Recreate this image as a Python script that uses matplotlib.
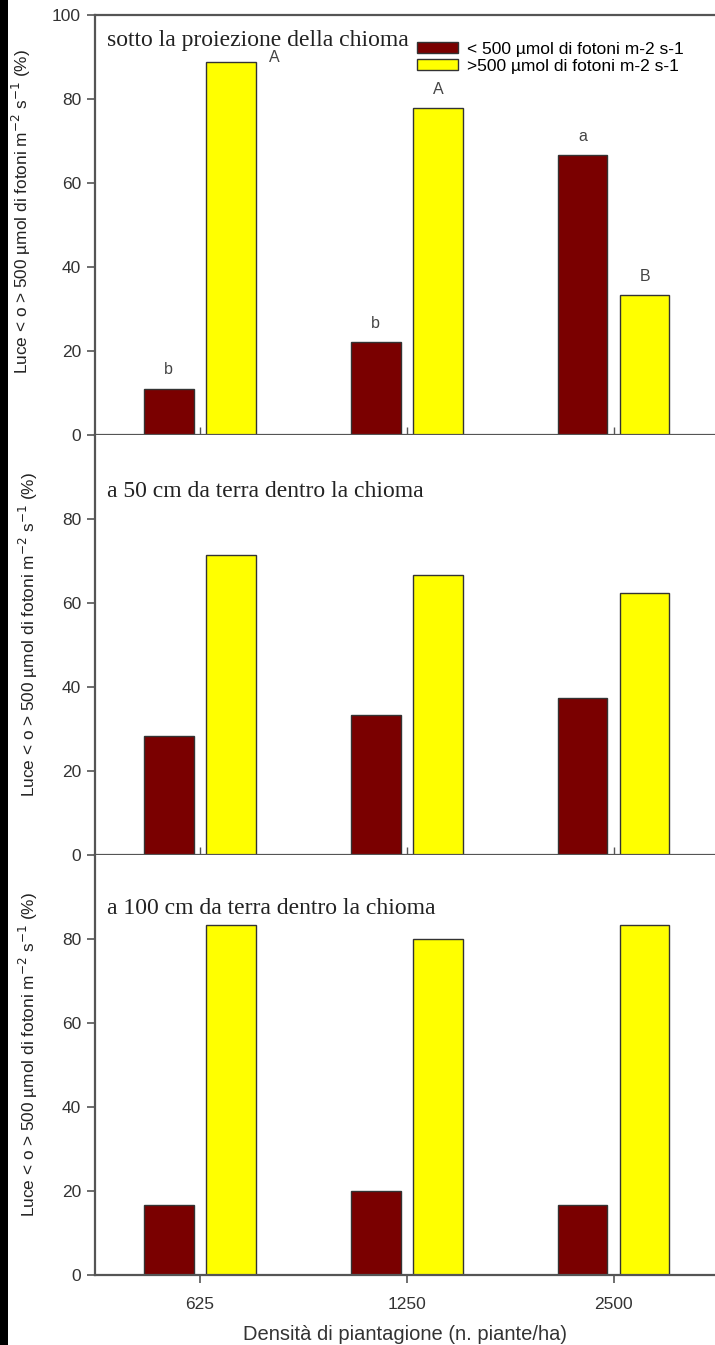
import numpy as np
import matplotlib
matplotlib.use('Agg')
import matplotlib.pyplot as plt
from matplotlib.patches import Rectangle

# data
densities = ['625', '1250', '2500']
panel_titles = ['sotto la proiezione della chioma',
                'a 50 cm da terra dentro la chioma',
                'a 100 cm da terra dentro la chioma']
low_light = [[11.0, 22.1, 66.6],
             [28.4, 33.3, 37.5],
             [16.7, 20.0, 16.7]]
high_light = [[88.8, 77.8, 33.3],
              [71.4, 66.7, 62.5],
              [83.3, 80.0, 83.3]]
low_letters = ['b', 'b', 'a']
high_letters = ['A', 'A', 'B']
legend_labels = ['< 500 \u00b5mol di fotoni m-2 s-1', '>500 \u00b5mol di fotoni m-2 s-1']

dark_red = '#7a0000'
yellow = '#ffff00'
edge = '#333333'
axcol = '#555555'

plt.rcParams['font.family'] = ['Liberation Sans', 'DejaVu Sans']

fig = plt.figure(figsize=(7.15, 13.45), dpi=100)
fig.patches.append(Rectangle((0, 0), 8/715, 1, transform=fig.transFigure,
                             facecolor='black', edgecolor='none', zorder=10))

x = np.arange(len(densities))
w = 0.24
off = 0.15
left = 95/715
width = 1 - left
tops = [15, 435, 855]
title_y = [0.94, 0.865, 0.872]
ylab_pos = [(-0.100, 0.533), (-0.089, 0.524), (-0.089, 0.524)]

axes = []
for i in range(3):
    bottom = (1345 - tops[i] - 420) / 1345
    ax = fig.add_axes([left, bottom, width, 420/1345])
    axes.append(ax)
    ax.bar(x - off, low_light[i], w, color=dark_red, edgecolor=edge, linewidth=1.0,
           label=legend_labels[0])
    ax.bar(x + off, high_light[i], w, color=yellow, edgecolor=edge, linewidth=1.0,
           label=legend_labels[1])
    ax.set_xlim(-0.507, 2.49)
    ax.set_ylim(0, 100)
    if i == 0:
        ax.set_yticks([0, 20, 40, 60, 80, 100])
    else:
        ax.set_yticks([0, 20, 40, 60, 80])
    ax.set_xticks(x)
    ax.spines['right'].set_visible(False)
    if i > 0:
        ax.spines['top'].set_visible(False)
    for s in ['left', 'bottom', 'top']:
        ax.spines[s].set_color(axcol)
        ax.spines[s].set_linewidth(1.6)
    ax.tick_params(axis='y', direction='out', length=6, width=1.2, color=axcol,
                   labelsize=12.5, labelcolor='#333333', pad=4)
    if i < 2:
        ax.tick_params(axis='x', direction='in', length=6, width=1.0, color=axcol,
                       labelbottom=False)
    else:
        ax.tick_params(axis='x', direction='out', length=6, width=1.2, color=axcol,
                       labelsize=12.5, labelcolor='#333333', pad=10)
        ax.set_xticklabels(densities)
        ax.set_xlabel('Densit\u00e0 di piantagione (n. piante/ha)', fontsize=14.5,
                      color='#333333', labelpad=9)
    ax.set_ylabel('Luce < o > 500 \u00b5mol di fotoni m$^{-2}$ s$^{-1}$ (%)',
                  fontsize=12.4, color='#222222')
    ax.yaxis.set_label_coords(*ylab_pos[i])
    ax.text(12/620, title_y[i], panel_titles[i], transform=ax.transAxes,
            family=['Liberation Serif', 'DejaVu Serif'], fontsize=17, color='#222222',
            va='center', ha='left')
    if i == 0:
        for j in range(3):
            ax.text(x[j] - off, low_light[i][j] + 4.5, low_letters[j], ha='center',
                    va='center', fontsize=11.5, color='#444444')
        ax.text(x[0] + off + 0.21, high_light[i][0] + 1, high_letters[0], ha='center',
                va='center', fontsize=11.5, color='#444444')
        for j in [1, 2]:
            ax.text(x[j] + off, high_light[i][j] + 4.5, high_letters[j], ha='center',
                    va='center', fontsize=11.5, color='#444444')
        ax.legend(loc='upper left', bbox_to_anchor=(0.50, 0.965), frameon=False,
                  fontsize=12.5, handlelength=2.35, handleheight=0.63, labelspacing=0.1,
                  handletextpad=0.5, borderpad=0.2)

fig.savefig('out.png', dpi=100)
